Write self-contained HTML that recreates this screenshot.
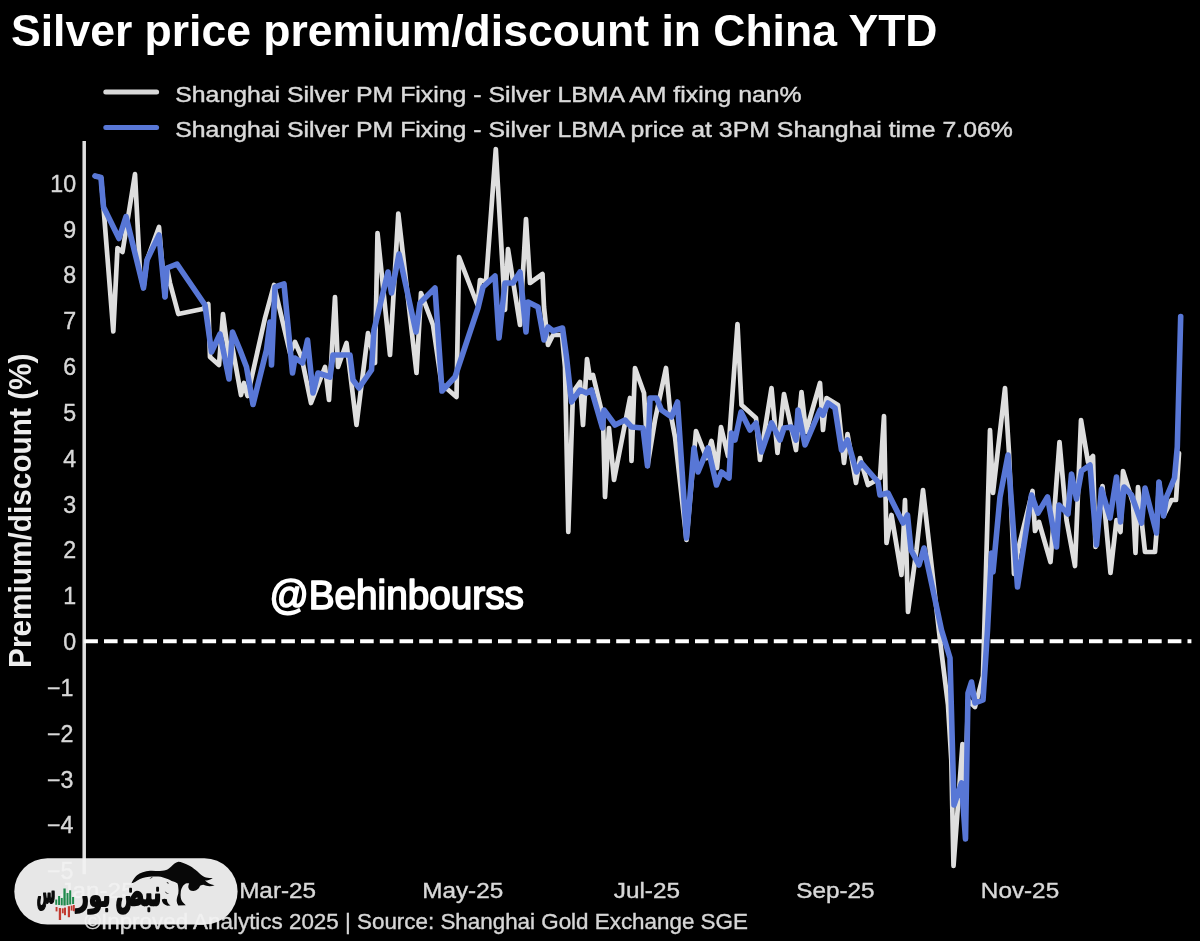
<!DOCTYPE html>
<html lang="en">
<head>
<meta charset="utf-8">
<title>Silver price premium/discount in China YTD</title>
<style>
html,body{margin:0;padding:0;background:#000;}
body{width:1200px;height:941px;overflow:hidden;position:relative;font-family:"Liberation Sans",sans-serif;}
svg{position:absolute;left:0;top:0;display:block;}
text{font-family:"Liberation Sans",sans-serif;}
.title{font-weight:bold;font-size:44.5px;fill:#fff;}
.leg{font-size:22.5px;fill:#dadada;stroke:#dadada;stroke-width:0.45px;}
.yt{font-size:23.2px;fill:#d8d8d8;stroke:#d8d8d8;stroke-width:0.4px;}
.xt{font-size:22.5px;fill:#d8d8d8;stroke:#d8d8d8;stroke-width:0.4px;}
.ylab{font-weight:bold;font-size:29.8px;fill:#ededed;}
.foot{font-size:22.4px;fill:#d6d6d6;stroke:#d6d6d6;stroke-width:0.4px;}
.wm{font-weight:normal;font-size:39.8px;fill:#fff;stroke:#fff;stroke-width:1.7px;stroke-linejoin:round;}
.fa{font-family:"DejaVu Sans","Liberation Sans",sans-serif;font-weight:bold;font-size:20.5px;fill:#0a0a0a;}
</style>
</head>
<body>
<svg width="1200" height="941" viewBox="0 0 1200 941">
<rect width="1200" height="941" fill="#000"/>
<text class="title" x="11" y="46.3">Silver price premium/discount in China YTD</text>
<line x1="105.8" y1="92" x2="156.6" y2="92" stroke="#d9d9d9" stroke-width="5" stroke-linecap="round"/>
<line x1="105.8" y1="127.6" x2="156.6" y2="127.6" stroke="#5877d6" stroke-width="5" stroke-linecap="round"/>
<text class="leg" transform="translate(175.2,101.6) scale(1.104,1)">Shanghai Silver PM Fixing - Silver LBMA AM fixing nan%</text>
<text class="leg" transform="translate(175.2,137.4) scale(1.104,1)">Shanghai Silver PM Fixing - Silver LBMA price at 3PM Shanghai time 7.06%</text>
<line x1="84.2" y1="141" x2="84.2" y2="874.2" stroke="#e0e0e0" stroke-width="3.5"/>
<g><text class="yt" x="76.1" y="191.7" text-anchor="end">10</text><text class="yt" x="76.1" y="237.5" text-anchor="end">9</text><text class="yt" x="76.1" y="283.4" text-anchor="end">8</text><text class="yt" x="76.1" y="329.2" text-anchor="end">7</text><text class="yt" x="76.1" y="375.0" text-anchor="end">6</text><text class="yt" x="76.1" y="420.8" text-anchor="end">5</text><text class="yt" x="76.1" y="466.7" text-anchor="end">4</text><text class="yt" x="76.1" y="512.5" text-anchor="end">3</text><text class="yt" x="76.1" y="558.3" text-anchor="end">2</text><text class="yt" x="76.1" y="604.2" text-anchor="end">1</text><text class="yt" x="76.1" y="650.0" text-anchor="end">0</text><text class="yt" x="73.4" y="695.8" text-anchor="end">−1</text><text class="yt" x="73.4" y="741.7" text-anchor="end">−2</text><text class="yt" x="73.4" y="787.5" text-anchor="end">−3</text><text class="yt" x="73.4" y="833.3" text-anchor="end">−4</text><text class="yt" x="73.4" y="879.1" text-anchor="end">−5</text></g>
<g><text class="xt" transform="translate(97.5,898.2) scale(1.08,1)" text-anchor="middle">Jan-25</text><text class="xt" transform="translate(277.6,898.2) scale(1.08,1)" text-anchor="middle">Mar-25</text><text class="xt" transform="translate(462.7,898.2) scale(1.08,1)" text-anchor="middle">May-25</text><text class="xt" transform="translate(646.9,898.2) scale(1.08,1)" text-anchor="middle">Jul-25</text><text class="xt" transform="translate(835.4,898.2) scale(1.08,1)" text-anchor="middle">Sep-25</text><text class="xt" transform="translate(1020,898.2) scale(1.08,1)" text-anchor="middle">Nov-25</text></g>
<text class="ylab" transform="translate(30.6,510.7) rotate(-90) scale(1,1.035)" text-anchor="middle">Premium/discount (%)</text>
<line x1="84.3" y1="641.2" x2="1191.4" y2="641.2" stroke="#fff" stroke-width="3.9" stroke-dasharray="13.6 6.1"/>
<polyline fill="none" stroke="#dedede" stroke-width="4.7" stroke-linejoin="round" stroke-linecap="round" points="95,176 101,177.5 103.5,207 113.3,331.5 117.5,248 122.5,252 135,174 140,272 143.5,288 147,260 159,227 165,297 167,268 170,283 178.3,314 202.5,309 208.3,304 210,357 219,365 223,314 229,360 232,345 241,395 244,383 247.5,396 265,318 274,285 290,353 295,342 301.5,357 311,403 325,367 329,400 335,297 338,367 346.5,343 356.5,425 368,333 375,363 377.5,233 390,355 398.3,213.5 416.5,373 421,293 433,325 441.5,384 456.5,397 459,257 477.5,305 480,280 486,282 495.8,149 505,310 508,249 520,325 526,219 530,283 542.5,274 544,307 548,345 553,335 562,335 565,367 568.3,532 573,392 580,382 583,425 587,359 590,378 593,375 603,417 605,497 609,428 614,480 630,398 631.5,461 635,368 644,393 646,427 647.5,466 655,420 666,368 670,410 675,437 686.5,540 696,431 706.5,458 711.5,441 717,468 721,427 728,456 737.5,324 741.5,405 756,418 760,460 771.5,388 777.5,453 784,394 796,450 801.5,392 806,432 820,383 823,430 826.5,398 838,405 844,463 847.5,434 856,483 860,458 868,485 880,478 884,416 886.5,543 891.5,515 901.5,575 905,500 908,612 916.5,550 923,490 940,640 948,705 951.3,760 953.5,866 962.5,744 965,800 968,700 975,707 983,676 990,430 993,493 1005,388 1009,453 1014,574 1018,550 1032.5,491 1035,531 1039,522 1050.5,562 1059.5,442 1066.5,520 1075,566 1081,420 1088,462 1093,456 1095.5,547 1102.5,486 1110.5,573 1116.5,520 1120.5,532 1123,471 1133,503 1135.5,553 1138,487 1145,552 1155,552 1156.5,533 1159,482 1163.5,516 1171.5,500 1176,500 1179,453"/>
<polyline fill="none" stroke="#5877d6" stroke-width="5.6" stroke-linejoin="round" stroke-linecap="round" points="95,176 101,177.5 103.5,207 119,238.5 126,216.5 143.5,288 147,260 159,235 165,297 167,268 177,264 205,305 211.5,352 220,334 229,379 232.5,332 240,350 246.5,367 253,404.5 266.5,350 270,322 271.5,365 275,287 284,284 292.5,373 295,358 302.5,363 307.5,340 313,393 318,373 330,377 333,355 350,355 353,380 359,388 371.5,370 374,330 388,272 391.5,293 399,254 416,332 420,303 435,288 442,391 455,377 478,308 483,287 495,276 499,338 505,283 513,283 520,272 526,332 528,302 538,307 544,340 548,327 553,331 562.5,328 566.5,357 571.5,402 580,390 586.5,393 591.5,390 602.5,428 604,410 615,425 625,420 631.5,427 643,428 647.5,466 650,398 656.5,398 661.5,410 671.5,417 677.5,402 686.5,538 694,448 698,472 708,448 716.5,485 721.5,472 729,478 731.5,433 735,440 741,412 750,430 756,423 761.5,452 771.5,423 780,440 784,428 791.5,427 796,440 798,410 805,445 820,410 823,415 828,403 835,408 841.5,450 847.5,440 856.5,472 861.5,463 878,482 880,495 888,493 903,523 907.5,515 911,550 919,565 924,548 941.5,630 950,658 954,805 961.5,783 965.5,839 968,693 971.5,682 975,703 983,700 987.5,630 991.5,553 993,572 1000,497 1008,455 1017.5,587 1031.5,495 1038,513 1047.5,497 1056.5,547 1059,505 1068,514 1071.5,474 1076.5,499 1081.5,471 1090,465 1096.5,545 1101.5,489 1110,518 1116.5,477 1120.5,522 1124,487 1131.5,495 1141.5,523 1145,488 1156.5,533 1159,482 1163.5,516 1166.5,497 1174.5,478 1177.3,447 1180.7,316.5"/>
<text class="wm" transform="translate(269.4,608.6) scale(0.973,1.0)">@Behinbourss</text>
<text class="foot" x="84.5" y="928.6">©Inproved Analytics 2025 | Source: Shanghai Gold Exchange SGE</text>
<g id="logo">
<rect x="14.3" y="858.2" width="223.3" height="66.4" rx="33.2" ry="33.2" fill="#f1f1f1" fill-opacity="0.955"/>
<path fill="#080808" d="M131.5,883.3 C132.8,880 134.5,877.4 137,875.2 C140,872.8 145,871 150,870.7 C155,870.5 160,871.4 164.2,870.6 C167,870.2 169,868.5 171,866.8 C173.5,864.5 175.5,862.2 178.3,861.8 C181,861.8 185,863.5 190,866 C193,867.8 195,869.5 197.5,871.6 C200,874 202,876 204.5,877 C207,878 210,878.2 212.8,878 C210,879.8 207.5,880.5 205,880.6 C207,882.8 210.5,884.8 214.6,885.2 C211,886.8 206.5,886.3 203.3,884.8 C201.5,885 200.5,885.5 200,886 C199.3,887.5 198.5,888.5 197.5,889.3 C196.3,890.5 195,891 193.3,891 C192,891 190.8,890.8 190,890.2 C189,889.3 188.3,888 188.3,886.8 C188.3,885.6 188.6,884.5 189.2,883.5 C188,883.2 187,883.2 185.8,883.5 C184.3,884.3 183.2,885.5 182.5,886.8 C181.5,888.5 181,890 180.8,891.8 C180.5,894 180.5,896 180.8,897.7 C181.2,899.8 182,901.3 183.3,902.7 L185.8,905.2 L178.3,905.6 C177.3,904 176.8,902.5 176.7,901 C176.6,898.5 177.5,896 178.3,893.5 C178.6,891.5 178.6,889.5 178.3,887.7 C178.2,886 178,884.7 177.5,883.5 C176,882.3 174,881.5 171.7,881 C170.5,880.4 169.5,879.8 168.3,879.3 C166,878.4 163.5,877.4 160.8,876.8 C158,876.4 155,876.4 152.5,876.6 C150,876.7 148,876.9 145.8,877.3 C143.5,877.8 141.7,878.4 140,879.1 C138,880 136.5,881 135,882 C133.8,882.6 132.8,883 131.5,883.3 Z"/>
<path fill="#080808" d="M161.8,899.6 C162,902.8 164,905 167.4,905.8 L170.6,905.6 C168,903.8 166.9,901.8 166.9,899.3 C165.2,898.5 163.3,898.6 161.8,899.6 Z M166.6,881.9 C167.6,882 168.6,882.6 169,883.5 C168,883.7 167,883.2 166.6,881.9 Z M164.8,891.3 C166,892.6 167.4,893.3 168.9,893.5 C167.8,894.2 165.6,893.6 164.8,891.3 Z M149.5,878.8 C150.5,877.6 151.8,876.8 153.2,876.4 C152.2,877.5 151.2,878.4 149.5,878.8 Z"/>
<g stroke="#0a0a0a" stroke-width="1.3" stroke-linejoin="round">
<text class="fa" transform="translate(138.3,904.6) scale(1.04,1.74)" text-anchor="middle">نبض</text>
<text class="fa" transform="translate(93.3,905.6) scale(1.06,1.5)" text-anchor="middle">بور</text>
<text class="fa" transform="translate(46.2,903.4) scale(0.66,1.5)" text-anchor="middle">س</text>
</g>
<g fill="#1f8a4c">
<rect x="55.3" y="899.5" width="1.9" height="5.3"/>
<rect x="58.1" y="896" width="2" height="9"/>
<rect x="60.8" y="898" width="1.9" height="7.3"/>
<rect x="63.4" y="888.5" width="2.3" height="17"/>
<rect x="66.5" y="893" width="2" height="12"/>
<rect x="69.2" y="890.3" width="2" height="14.2"/>
<rect x="72.1" y="897" width="2" height="7"/>
</g>
<g fill="#c23a30">
<rect x="55.6" y="907" width="1.9" height="4.4"/>
<rect x="58.8" y="908" width="2.3" height="12"/>
<rect x="61.9" y="908.3" width="1.8" height="5"/>
<rect x="64" y="907.6" width="2" height="7.6"/>
<rect x="67.8" y="906.2" width="2.2" height="11"/>
<rect x="70.7" y="905.6" width="1.8" height="5"/>
<rect x="72.9" y="905" width="1.9" height="6.2"/>
</g>
</g>

</svg>
</body>
</html>
